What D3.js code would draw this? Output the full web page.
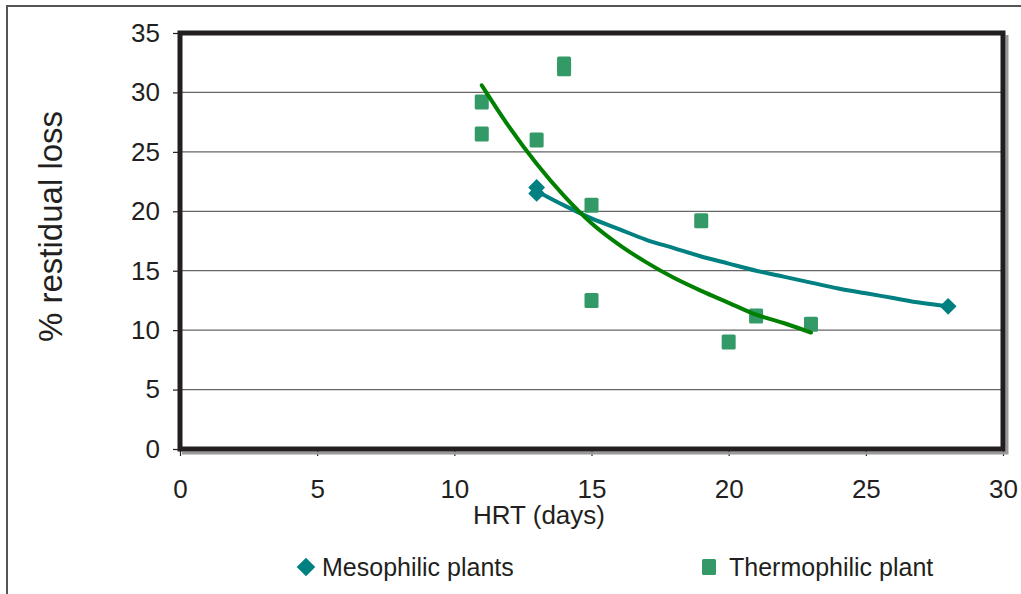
<!DOCTYPE html>
<html>
<head>
<meta charset="utf-8">
<script src="https://cdn.jsdelivr.net/npm/d3@7"></script>
<style>
  body { margin: 0; background: #fff; }
  text { font-family: "Liberation Sans", Arial, sans-serif; fill: #231f20; }
</style>
</head>
<body>
<svg id="chart" width="1021" height="594"></svg>
<script>
// data
var mesoHRT = [13, 13, 28];
var mesoLoss = [22.0, 21.5, 12.0];
var thermoHRT = [11, 11, 13, 14, 14, 15, 15, 19, 20, 21, 23];
var thermoLoss = [29.2, 26.5, 26.0, 32.4, 32.0, 20.5, 12.5, 19.2, 9.0, 11.2, 10.5];

// trend lines (power fits as drawn in the chart)
var mesoTrendX = [13, 14, 15, 16, 17, 18, 19, 20, 21, 22, 23, 24, 25, 26, 27, 28];
var mesoTrendY = [21.7, 20.5, 19.4, 18.5, 17.6, 16.9, 16.2, 15.6, 15.0, 14.5, 14.0, 13.5, 13.1, 12.7, 12.3, 12.0];
var thermoTrendX = [11, 12, 13, 14, 15, 16, 17, 18, 19, 20, 21, 22, 23];
var thermoTrendY = [30.6, 27.1, 24.0, 21.3, 19.0, 17.2, 15.7, 14.4, 13.3, 12.3, 11.3, 10.6, 9.8];

var xTicks = [0, 5, 10, 15, 20, 25, 30];
var yTicks = [0, 5, 10, 15, 20, 25, 30, 35];
var seriesNames = ["Mesophilic plants", "Thermophilic plant"];

var svg = d3.select("#chart");
var plotL = 180, plotR = 1003, plotT = 33, plotB = 449;

var x = d3.scaleLinear().domain([0, 30]).range([plotL, plotR]);
var y = d3.scaleLinear().domain([0, 35]).range([plotB, plotT]);

// outer chart border
svg.append("rect")
  .attr("x", 7).attr("y", 6)
  .attr("width", 1030).attr("height", 600)
  .attr("fill", "none")
  .attr("stroke", "#555")
  .attr("stroke-width", 2);

// gridlines
svg.append("g").selectAll("line")
  .data(yTicks.filter(function(d){ return d > 0 && d < 35; }))
  .enter().append("line")
  .attr("x1", plotL).attr("x2", plotR)
  .attr("y1", function(d){ return y(d); })
  .attr("y2", function(d){ return y(d); })
  .attr("stroke", "#666")
  .attr("stroke-width", 1.2);

// axes
var yAxis = svg.append("g")
  .attr("transform", "translate(" + plotL + ",0)")
  .call(d3.axisLeft(y).tickValues(yTicks).tickSize(7).tickPadding(13));
var xAxis = svg.append("g")
  .attr("transform", "translate(0," + plotB + ")")
  .call(d3.axisBottom(x).tickValues(xTicks).tickSize(7).tickPadding(24));

[yAxis, xAxis].forEach(function(a){
  a.select(".domain").remove();
  a.selectAll(".tick line").attr("stroke", "#231f20").attr("stroke-width", 1.2);
  a.selectAll(".tick text")
    .style("font-family", "'Liberation Sans', Arial, sans-serif")
    .style("font-size", "26px")
    .attr("fill", "#231f20");
});

// shadow and frame of plot area
svg.append("path")
  .attr("d", "M" + (plotR + 4) + "," + (plotT + 2) + "V" + (plotB + 4) + "H" + (plotL + 2))
  .attr("fill", "none")
  .attr("stroke", "#999")
  .attr("stroke-width", 3);
svg.append("rect")
  .attr("x", plotL).attr("y", plotT)
  .attr("width", plotR - plotL).attr("height", plotB - plotT)
  .attr("fill", "none")
  .attr("stroke", "#231f20")
  .attr("stroke-width", 5);

// thermophilic squares
svg.append("g").selectAll("rect")
  .data(thermoHRT)
  .enter().append("rect")
  .attr("x", function(d){ return x(d) - 7; })
  .attr("y", function(d, i){ return y(thermoLoss[i]) - 7.5; })
  .attr("width", 14).attr("height", 15)
  .attr("rx", 1.5)
  .attr("fill", "#339966");

// mesophilic diamonds
var diamond = d3.symbol().type(d3.symbolDiamond2).size(180);
svg.append("g").selectAll("path")
  .data(mesoHRT)
  .enter().append("path")
  .attr("d", diamond)
  .attr("transform", function(d, i){ return "translate(" + x(d) + "," + y(mesoLoss[i]) + ")"; })
  .attr("fill", "#008080");

// trend lines
var line = d3.line().curve(d3.curveMonotoneX);
svg.append("path")
  .attr("d", line(mesoTrendX.map(function(d, i){ return [x(d), y(mesoTrendY[i])]; })))
  .attr("fill", "none")
  .attr("stroke", "#008080")
  .attr("stroke-width", 4)
  .attr("stroke-linecap", "round");
svg.append("path")
  .attr("d", line(thermoTrendX.map(function(d, i){ return [x(d), y(thermoTrendY[i])]; })))
  .attr("fill", "none")
  .attr("stroke", "#008000")
  .attr("stroke-width", 4)
  .attr("stroke-linecap", "round");

// axis titles
svg.append("text")
  .attr("x", 539).attr("y", 524)
  .attr("text-anchor", "middle")
  .style("font-size", "26px")
  .text("HRT (days)");
svg.append("text")
  .attr("transform", "translate(62,342) rotate(-90)")
  .attr("text-anchor", "start")
  .style("font-size", "33px")
  .text("% restidual loss");

// legend
svg.append("path")
  .attr("d", d3.symbol().type(d3.symbolDiamond2).size(220))
  .attr("transform", "translate(306,567)")
  .attr("fill", "#008080");
svg.append("text")
  .attr("x", 322).attr("y", 576)
  .style("font-size", "25px")
  .text(seriesNames[0]);
svg.append("rect")
  .attr("x", 702).attr("y", 559)
  .attr("width", 14).attr("height", 16)
  .attr("rx", 1.5)
  .attr("fill", "#339966");
svg.append("text")
  .attr("x", 729).attr("y", 576)
  .style("font-size", "25px")
  .text(seriesNames[1]);
</script>
</body>
</html>
